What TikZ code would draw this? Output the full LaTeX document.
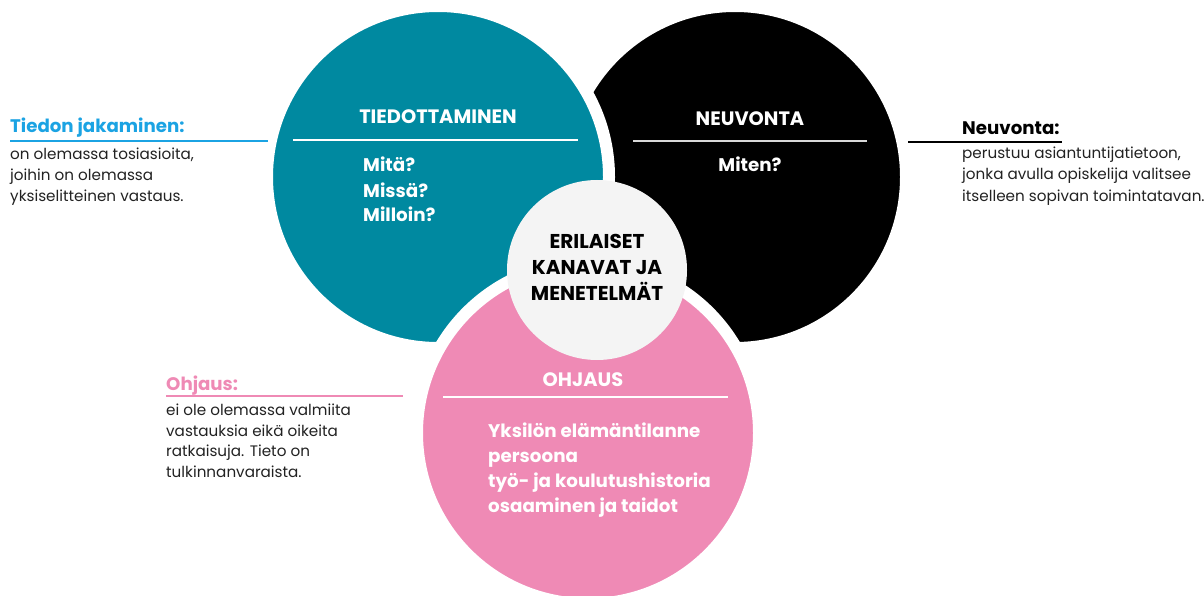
\documentclass[tikz,border=0pt]{standalone}
\usepackage{fontspec}
\setmainfont{Poppins}
\definecolor{teal1}{RGB}{0,137,160}
\definecolor{pink1}{RGB}{239,138,181}
\definecolor{blue1}{RGB}{27,163,227}
\definecolor{gray1}{RGB}{244,244,244}
\definecolor{txt}{RGB}{34,34,34}
\tikzset{
  bigcirc/.style={circle, minimum size=342pt, inner sep=0pt, outer sep=0pt, draw=white, line width=12pt, fill=#1},
  head/.style={font=\bfseries\fontsize{19.4}{22}\selectfont, text=white, anchor=base, inner sep=0pt},
  midtxt/.style={font=\bfseries\fontsize{20}{22}\selectfont, text=black, anchor=base, inner sep=0pt},
  item/.style={font=\bfseries\fontsize{18.3}{20}\selectfont, text=white, anchor=base west, inner sep=0pt},
  lbl/.style={font=\bfseries\fontsize{18.2}{20}\selectfont, anchor=base west, inner sep=0pt},
  body/.style={font=\fontsize{15.2}{18}\selectfont, text=txt, anchor=base west, inner sep=0pt},
  rule/.style={line width=2pt},
}
\begin{document}
\begin{tikzpicture}[x=1pt,y=-1pt]
\useasboundingbox[fill=white] (0,0) rectangle (1204,596);
% circles
\node[bigcirc=black] (neu) at (735,177) {};
\node[bigcirc=teal1] (tie) at (438,177) {};
\node[bigcirc=pink1] (ohj) at (588,433) {};
\node[circle, minimum size=180pt, inner sep=0pt, fill=gray1] (mid) at (597,270) {};
% center text
\node[midtxt] (m1) at (597,248) {ERILAISET};
\node[midtxt] (m2) at (597,274) {KANAVAT JA};
\node[midtxt] (m3) at (597,300) {MENETELMÄT};
% teal
\node[head] (th) at (438,124) {TIEDOTTAMINEN};
\coordinate (tl1) at (293,140);
\coordinate (tl2) at (578,140);
\draw[rule, white] (tl1) -- (tl2);
\node[item] (t1) at (363,172) {Mitä?};
\node[item] (t2) at (363,197) {Missä?};
\node[item] (t3) at (363,222) {Milloin?};
% black
\node[head] (nh) at (750,126) {NEUVONTA};
\coordinate (nl1) at (633,141);
\coordinate (nl2) at (867,141);
\draw[rule, gray!30] (nl1) -- (nl2);
\node[item, anchor=base] (n1) at (750,172) {Miten?};
% pink
\node[head] (oh) at (583,386) {OHJAUS};
\coordinate (ol1) at (443,397);
\coordinate (ol2) at (728,397);
\draw[rule, white] (ol1) -- (ol2);
\node[item] (o1) at (488,437) {Yksilön elämäntilanne};
\node[item] (o2) at (488,462) {persoona};
\node[item] (o3) at (488,487) {työ- ja koulutushistoria};
\node[item] (o4) at (488,512) {osaaminen ja taidot};
% left annotation
\node[lbl, text=blue1] (a1) at (10,133) {Tiedon jakaminen:};
\coordinate (al1) at (10,141);
\coordinate (al2) at (268,141);
\draw[rule, blue1] (al1) -- (al2);
\node[body] (a2) at (10,160) {on olemassa tosiasioita,};
\node[body] (a3) at (10,181) {joihin on olemassa};
\node[body] (a4) at (10,202) {yksiselitteinen vastaus.};
% right annotation
\node[lbl, text=black] (b1) at (962,135) {Neuvonta:};
\coordinate (bl1) at (908,142);
\coordinate (bl2) at (1062,142);
\draw[rule, black] (bl1) -- (bl2);
\node[body] (b2) at (962,159) {perustuu asiantuntijatietoon,};
\node[body] (b3) at (962,180) {jonka avulla opiskelija valitsee};
\node[body] (b4) at (962,201) {itselleen sopivan toimintatavan.};
% pink annotation
\node[lbl, text=pink1] (c1) at (166,390) {Ohjaus:};
\coordinate (cl1) at (166,396);
\coordinate (cl2) at (403,396);
\draw[rule, pink1] (cl1) -- (cl2);
\node[body] (c2) at (166,415) {ei ole olemassa valmiita};
\node[body] (c3) at (166,436) {vastauksia eikä oikeita};
\node[body] (c4) at (166,456) {ratkaisuja. Tieto on};
\node[body] (c5) at (166,477) {tulkinnanvaraista.};
\end{tikzpicture}
\end{document}
